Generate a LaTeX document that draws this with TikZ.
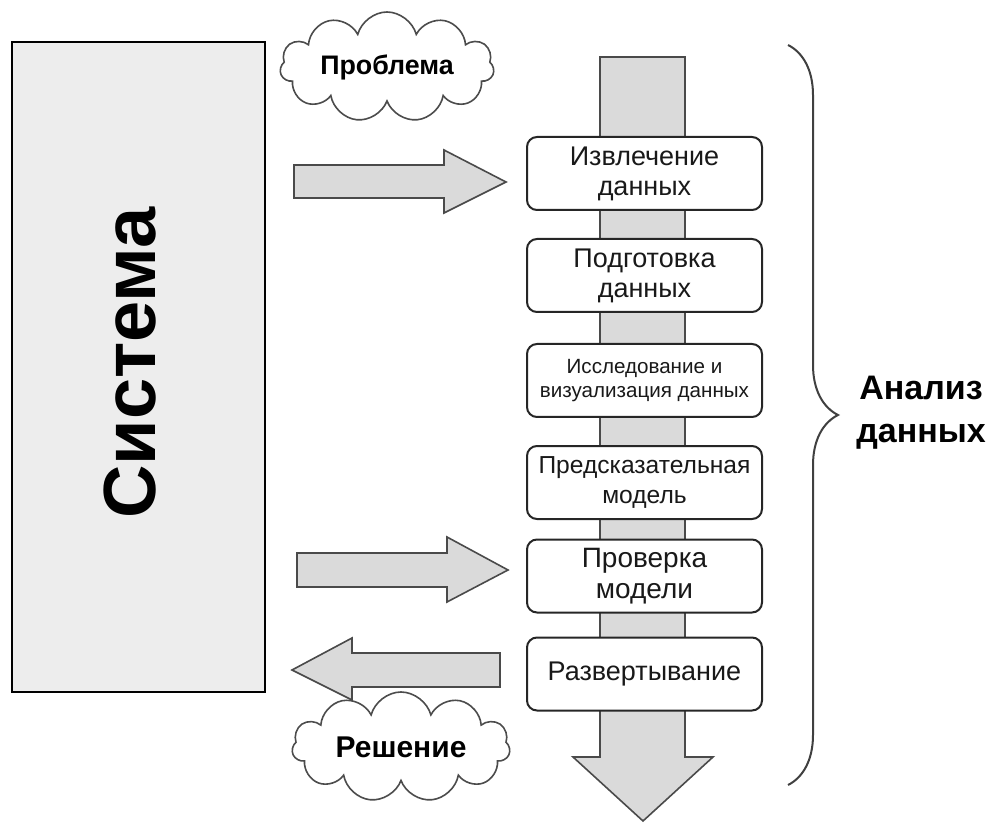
\documentclass[tikz,border=0pt]{standalone}
\usepackage{fontspec}
\setmainfont{Liberation Sans}
\usepackage{xcolor}
\usetikzlibrary{
    decorations.pathreplacing,
    shapes.symbols,
    positioning
}
\definecolor{arrowgray}{HTML}{DADADA}
\definecolor{edgegray}{HTML}{4A4A4A}
\definecolor{sysgray}{HTML}{EDEDED}
\tikzset{
    stepbox/.style={draw=black!85, line width=1pt, rounded corners=5pt, fill=white,
        minimum width=117.5pt, minimum height=36.5pt, inner sep=1pt, align=center,
        text=black!90, font=\fontsize{13.5}{15}\selectfont},
    blockarrow/.style={draw=edgegray, line width=0.8pt, fill=arrowgray, line join=miter},
    bubble/.style={cloud, cloud puffs=11, cloud ignores aspect, draw=black!70,
        line width=0.8pt, fill=white, inner sep=0pt, font=\bfseries}
}

\begin{document}
\begin{tikzpicture}[x=0.5pt, y=-0.5pt]
    \useasboundingbox (0, 0) rectangle (990, 823);
    % system block
    \node[draw=black, line width=1pt, fill=sysgray, minimum width=126.5pt, minimum height=325pt] (system) at (138.5, 367) {};
    \node[rotate=90, font=\bfseries\fontsize{37}{40}\selectfont] (systemlabel) at (130, 363) {Система};
    % main flow
    \draw[blockarrow] (600, 57) -- (685, 57) -- (685, 757) -- (713, 757) -- (643, 821) -- (573, 757) -- (600, 757) -- cycle;
    \node[stepbox] (extract) at (644.5, 173.5) {Извлечение\\данных};
    \node[stepbox] (prepare) at (644.5, 275.5) {Подготовка\\данных};
    \node[stepbox, font=\fontsize{10.3}{12}\selectfont] (explore) at (644.5, 380.5) {Исследование и\\визуализация данных};
    \node[stepbox, font=\fontsize{12.3}{15}\selectfont] (predict) at (644.5, 482.5) {Предсказательная\\модель};
    \node[stepbox, font=\fontsize{14}{15.5}\selectfont] (validate) at (644.5, 576) {Проверка\\модели};
    \node[stepbox] (deploy) at (644.5, 674) {Развертывание};
    % clouds
    \node[bubble, minimum width=107pt, minimum height=55pt, font=\bfseries\fontsize{13.4}{15}\selectfont] (problem) at (387, 67) {Проблема};
    \node[bubble, minimum width=109pt, minimum height=55pt, font=\bfseries\fontsize{15}{17}\selectfont] (solution) at (401, 747) {Решение};
    % side arrows
    \draw[blockarrow] (294, 165) -- (444, 165) -- (444, 150) -- (506, 182) -- (444, 213) -- (444, 198) -- (294, 198) -- cycle;
    \draw[blockarrow] (297, 553) -- (447, 553) -- (447, 537) -- (508, 570) -- (447, 602) -- (447, 587) -- (297, 587) -- cycle;
    \draw[blockarrow] (500, 653) -- (352, 653) -- (352, 638) -- (292, 670) -- (352, 700) -- (352, 687) -- (500, 687) -- cycle;
    % brace
    \coordinate (bracetop) at (788, 45);
    \coordinate (bracebottom) at (788, 785);
    \draw[decorate, decoration={brace, amplitude=25pt}, line width=1pt, draw=black!75] (bracetop) -- (bracebottom);
    \node[align=center, font=\bfseries\fontsize{17}{21.5}\selectfont] (analysis) at (921, 413) {Анализ\\данных};
\end{tikzpicture}
\end{document}
